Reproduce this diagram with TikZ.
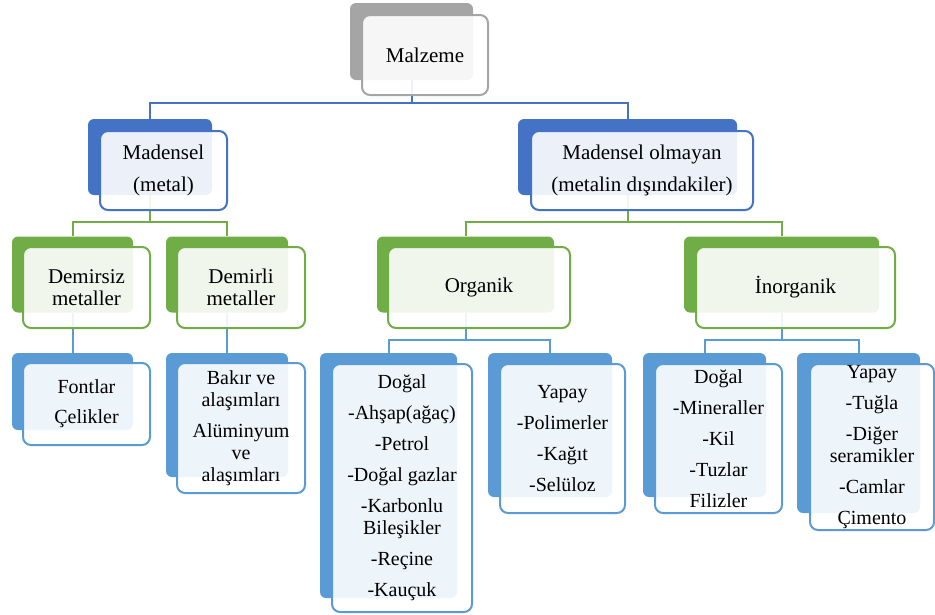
\documentclass[tikz,border=0pt]{standalone}
\usepackage{fontspec}
\setmainfont{Liberation Serif}
\definecolor{grayA}{HTML}{A5A5A5}
\definecolor{blueA}{HTML}{4472C4}
\definecolor{greenA}{HTML}{70AD47}
\definecolor{blueB}{HTML}{5B9BD5}
\tikzset{
  back/.style={draw=none,fill=#1,rounded corners=6pt,inner sep=0pt},
  front/.style={draw=#1,line width=2pt,fill=white,fill opacity=0.9,text opacity=1,
    rounded corners=8pt,inner sep=0pt,align=center},
  big/.style={font=\fontsize{21}{22}\selectfont},
  small/.style={font=\fontsize{20}{22}\selectfont},
  link/.style={draw=#1,line width=2pt}
}
\begin{document}
\begin{tikzpicture}[x=1pt,y=-1pt]
\useasboundingbox (0,0) rectangle (935,614);
% back shapes
\node (malzemeB) [back=grayA,minimum width=123pt,minimum height=77pt] at (411.5,41.5) {};
\node (madenselB) [back=blueA,minimum width=124pt,minimum height=76pt] at (150,157) {};
\node (olmayanB) [back=blueA,minimum width=219pt,minimum height=76pt] at (627.5,157) {};
\node (demirsizB) [back=greenA,minimum width=121pt,minimum height=76pt] at (72.5,274.5) {};
\node (demirliB) [back=greenA,minimum width=122pt,minimum height=76pt] at (227,274.5) {};
\node (organikB) [back=greenA,minimum width=177pt,minimum height=76pt] at (465.5,274.5) {};
\node (inorganikB) [back=greenA,minimum width=195pt,minimum height=76pt] at (781.5,274.5) {};
\node (fontlarB) [back=blueB,minimum width=121pt,minimum height=77pt] at (72.5,391.5) {};
\node (bakirB) [back=blueB,minimum width=122pt,minimum height=124pt] at (227,415) {};
\node (dogalOB) [back=blueB,minimum width=137pt,minimum height=245pt] at (388.5,475.5) {};
\node (yapayOB) [back=blueB,minimum width=124pt,minimum height=144pt] at (550,425) {};
\node (dogalIB) [back=blueB,minimum width=123pt,minimum height=144pt] at (704.5,425) {};
\node (yapayIB) [back=blueB,minimum width=123pt,minimum height=160pt] at (858.5,433) {};
% connectors
\draw[link=blueA] (malzemeB.south) -- ++(0,23) -| (madenselB.north);
\draw[link=blueA] (malzemeB.south) -- ++(0,23) -| (olmayanB.north);
\draw[link=greenA] (madenselB.south) -- ++(0,27) -| (demirsizB.north);
\draw[link=greenA] (madenselB.south) -- ++(0,27) -| (demirliB.north);
\draw[link=greenA] (olmayanB.south) -- ++(0,27) -| (organikB.north);
\draw[link=greenA] (olmayanB.south) -- ++(0,27) -| (inorganikB.north);
\draw[link=blueB] (demirsizB.south) -- (fontlarB.north);
\draw[link=blueB] (demirliB.south) -- (bakirB.north);
\draw[link=blueB] (organikB.south) -- ++(0,27) -| (dogalOB.north);
\draw[link=blueB] (organikB.south) -- ++(0,27) -| (yapayOB.north);
\draw[link=blueB] (inorganikB.south) -- ++(0,27) -| (dogalIB.north);
\draw[link=blueB] (inorganikB.south) -- ++(0,27) -| (yapayIB.north);
% front shapes
\node (malzeme) [front=grayA,big,minimum width=126pt,minimum height=80pt] at (425,55) {Malzeme};
\node (madensel) [front=blueA,big,minimum width=127pt,minimum height=79pt] at (163.5,170.5) {Madensel\\[10pt](metal)};
\node (olmayan) [front=blueA,big,minimum width=222pt,minimum height=79pt] at (642,170.5) {Madensel olmayan\\[10pt](metalin dışındakiler)};
\node (demirsiz) [front=greenA,big,minimum width=127pt,minimum height=81pt] at (86.5,287.5) {Demirsiz\\metaller};
\node (demirli) [front=greenA,big,minimum width=128pt,minimum height=81pt] at (241,287.5) {Demirli\\metaller};
\node (organik) [front=greenA,big,minimum width=182pt,minimum height=81pt] at (479,287.5) {Organik};
\node (inorganik) [front=greenA,big,minimum width=199pt,minimum height=81pt] at (795.5,287.5) {İnorganik};
\node (fontlar) [front=blueB,small,minimum width=127pt,minimum height=82pt] at (86.5,404) {Fontlar\\[8pt]Çelikler};
\node (bakir) [front=blueB,small,minimum width=128pt,minimum height=130pt] at (241,428) {Bakır ve\\alaşımları\\[9pt]Alüminyum\\ve\\alaşımları};
\node (dogalO) [front=blueB,small,minimum width=140pt,minimum height=248pt] at (402,488) {Doğal\\[9pt]-Ahşap(ağaç)\\[9pt]-Petrol\\[9pt]-Doğal gazlar\\[9pt]-Karbonlu\\Bileşikler\\[9pt]-Reçine\\[9pt]-Kauçuk};
\node (yapayO) [front=blueB,small,minimum width=125pt,minimum height=149pt] at (562.5,438.5) {Yapay\\[9pt]-Polimerler\\[9pt]-Kağıt\\[9pt]-Selüloz};
\node (dogalI) [front=blueB,small,minimum width=127pt,minimum height=149pt] at (718.5,438.5) {Doğal\\[9pt]-Mineraller\\[9pt]-Kil\\[9pt]-Tuzlar\\[9pt]Filizler};
\node (yapayI) [front=blueB,small,minimum width=124pt,minimum height=166pt] at (872,447) {Yapay\\[9pt]-Tuğla\\[9pt]-Diğer\\seramikler\\[9pt]-Camlar\\[9pt]Çimento};
\end{tikzpicture}
\end{document}
